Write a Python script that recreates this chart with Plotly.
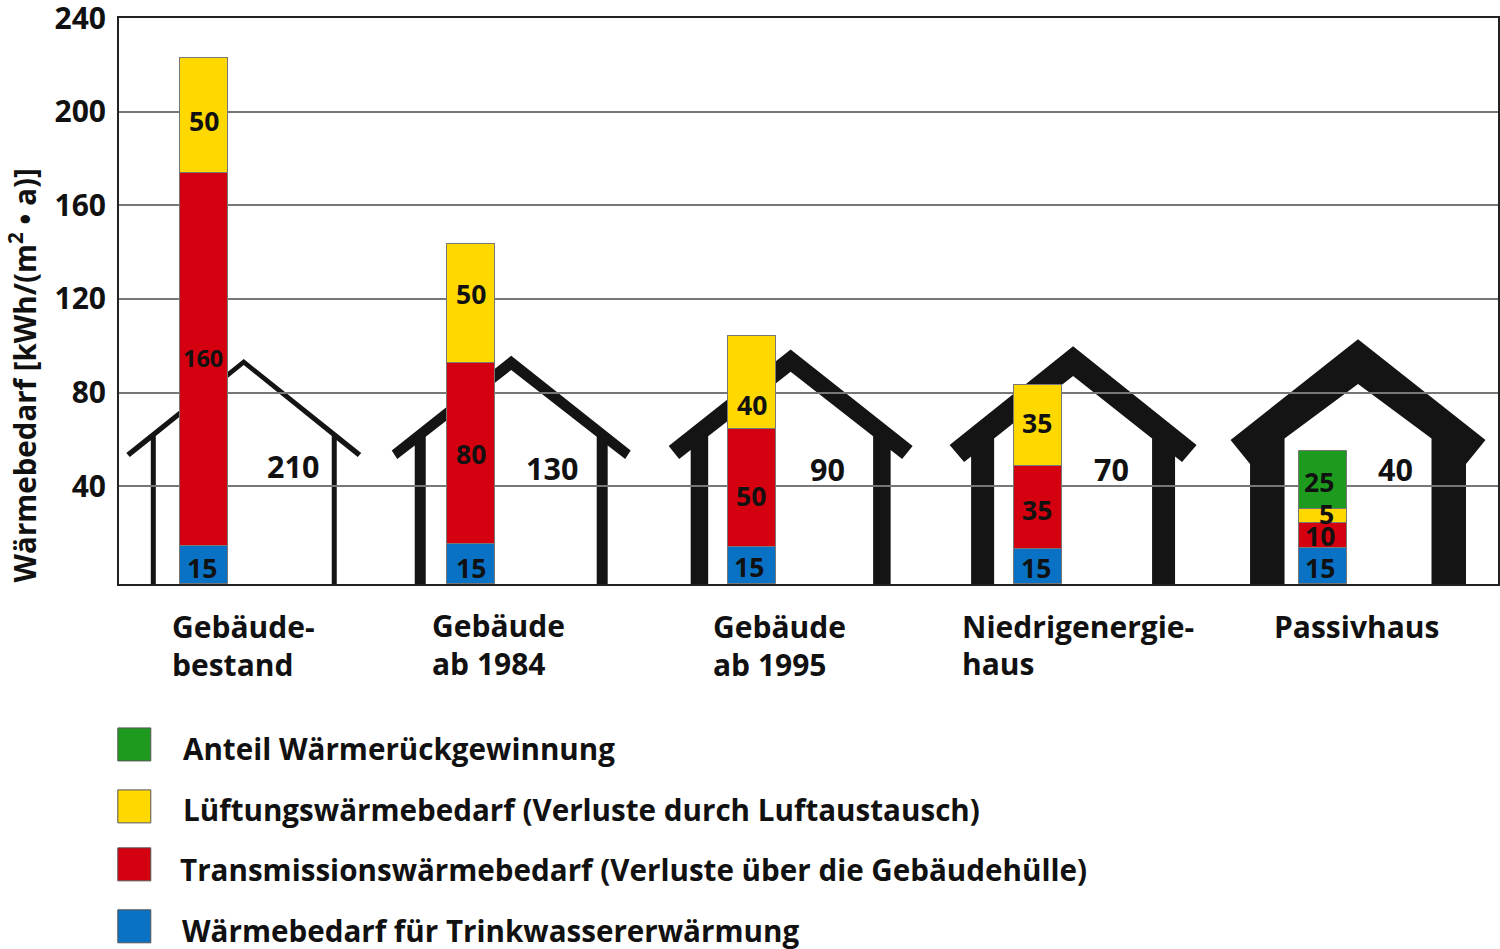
import plotly.graph_objects as go

# ---- data ----
bar_x = [204, 471, 752, 1038, 1322.7]
blue_height = [16.2, 17.1, 15.7, 15.1, 15.3]
red_height = [159.5, 77.4, 50.5, 35.3, 10.7]
yellow_height = [48.9, 50.9, 39.6, 34.8, 6.2]
green_height = [0, 0, 0, 0, 24.6]
y_ticks = [40, 80, 120, 160, 200, 240]
y_base = -1.8

bar_labels = ["50", "160", "15", "50", "80", "15", "40", "50", "15", "35", "35", "15", "25", "5", "10", "15"]
bar_label_x = [204, 203, 202, 471, 471, 471, 752, 751, 749, 1037, 1037, 1036, 1319, 1326, 1320, 1320]
bar_label_y = [121, 358, 568, 294, 454, 568, 405, 496, 567, 423, 510, 568, 482, 514, 536, 568]
bar_label_size = [26.5, 23.5, 26.5, 26.5, 26.5, 26.5, 26.5, 26.5, 26.5, 26.5, 26.5, 26.5, 26.5, 26.5, 26.5, 26.5]

totals = ["210", "130", "90", "70", "40"]
total_x = [293, 552, 827, 1111, 1395]
total_y = [466, 468, 469, 469, 469]

category_lines = ["Gebäude-", "bestand", "Gebäude", "ab 1984", "Gebäude", "ab 1995", "Niedrigenergie-", "haus", "Passivhaus"]
category_x = [170, 170, 430, 430, 711, 711, 960, 960, 1272]
category_y = [627, 665, 626, 664, 627, 665, 627, 664, 627]

legend_names = ["Anteil Wärmerückgewinnung",
                "Lüftungswärmebedarf (Verluste durch Luftaustausch)",
                "Transmissionswärmebedarf (Verluste über die Gebäudehülle)",
                "Wärmebedarf für Trinkwassererwärmung"]
legend_text_x = [181, 181, 178, 180]
legend_text_y = [749, 810, 870, 931]
legend_box_top = [728, 790, 848, 910]

# ---- styles ----
GREEN, YELLOW, RED, BLUE = "#1E9A1E", "#FFD800", "#D5000F", "#0A72C4"
INK = "#111111"
FONT = "Open Sans"
L, R, T, B = 118.7, 1498, 17.7, 584
W, H = 1500, 949


def px(x):
    return (x - L) / (R - L)


def py(y):
    return (B - y) / (B - T)


# apex x, outer y, inner y, tip-top dx, tip-top y, tip-bottom dx, tip-bottom y, wall outer dx, wall inner dx
houses = [
    (243.5, 359, 365, 117.5, 453, 114, 457, 93, 88),
    (511, 355.7, 370, 119.5, 450.5, 114, 459, 96.5, 85.5),
    (790.5, 349.3, 371.7, 122, 446, 111.5, 459, 100, 82.5),
    (1073, 346, 376, 123.5, 445, 109, 462, 102, 79),
    (1358, 339, 384, 127.5, 440, 108, 464, 108, 73.5),
]


def house_path(ax, ao, ai, tt_dx, tt_y, tb_dx, tb_y, wo, wi):
    slope = (tb_y - ai) / tb_dx
    join_o = ai + slope * wo
    join_i = ai + slope * wi
    pts = [(ax - wo, B), (ax - wo, join_o), (ax - tb_dx, tb_y), (ax - tt_dx, tt_y), (ax, ao),
           (ax + tt_dx, tt_y), (ax + tb_dx, tb_y), (ax + wo, join_o), (ax + wo, B), (ax + wi, B),
           (ax + wi, join_i), (ax, ai), (ax - wi, join_i), (ax - wi, B)]
    return "M" + " L".join(f"{px(x):.5f},{py(y):.5f}" for x, y in pts) + " Z"


fig = go.Figure()
running = [y_base] * 5
for name, values, color in [(legend_names[3], blue_height, BLUE), (legend_names[2], red_height, RED),
                            (legend_names[1], yellow_height, YELLOW), (legend_names[0], green_height, GREEN)]:
    fig.add_bar(x=bar_x, y=values, base=list(running), name=name, width=48,
                marker=dict(color=color, line=dict(color="#777777", width=1)), showlegend=False)
    running = [r + v for r, v in zip(running, values)]

shapes = []
for h in houses:
    shapes.append(dict(type="path", xref="paper", yref="paper", path=house_path(*h), fillcolor="#141414",
                       line=dict(width=0), layer="below"))
for top, color in zip(legend_box_top, [GREEN, YELLOW, RED, BLUE]):
    shapes.append(dict(type="rect", xref="paper", yref="paper", x0=px(117.5), x1=px(150.5), y0=py(top), y1=py(top + 33),
                       fillcolor=color, line=dict(color="#555555", width=1)))

ann = []
def text(t, x, y, size, xanchor="center", **kw):
    ann.append(dict(text=t, x=px(x), y=py(y), xref="paper", yref="paper", xanchor=xanchor, yanchor="middle",
                    showarrow=False, font=dict(family=FONT, size=size, color=INK, weight="bold"), **kw))

for t, x, y, s in zip(bar_labels, bar_label_x, bar_label_y, bar_label_size):
    text(t, x, y, s)
for t, x, y in zip(totals, total_x, total_y):
    text(t, x, y, 30.5)
for t, x, y in zip(category_lines, category_x, category_y):
    text(t, x, y, 30, xanchor="left")
for t, x, y in zip(legend_names, legend_text_x, legend_text_y):
    text(t, x, y, 29.6, xanchor="left")
text("Wärmebedarf [kWh/(m<sup>2</sup> • a)]", 22, 375, 29.5, textangle=-90)

fig.update_layout(
    width=W, height=H, margin=dict(l=L, r=W - R, t=T, b=H - B, autoexpand=False),
    barmode="overlay", bargap=0,
    plot_bgcolor="white", paper_bgcolor="white", shapes=shapes, annotations=ann,
    font=dict(family=FONT, color=INK), showlegend=False,
)
fig.update_xaxes(range=[L, R], showticklabels=False, showgrid=False, zeroline=False, ticks="", automargin=False,
                 showline=True, linecolor="#222222", linewidth=2, mirror=True)
fig.update_yaxes(range=[y_base, 240.02], tickvals=y_ticks, ticktext=[str(v) for v in y_ticks], showgrid=True,
                 gridcolor="#777777", gridwidth=1.5, zeroline=False, ticks="", ticklabelstandoff=5,
                 ticklabeloverflow="allow", automargin=False,
                 tickfont=dict(family=FONT, size=30, color=INK, weight="bold"),
                 showline=True, linecolor="#222222", linewidth=2, mirror=True)
fig.write_html("out.html", config={"displayModeBar": False},
               post_script="document.body.style.margin='0';document.documentElement.style.overflow='hidden';")
